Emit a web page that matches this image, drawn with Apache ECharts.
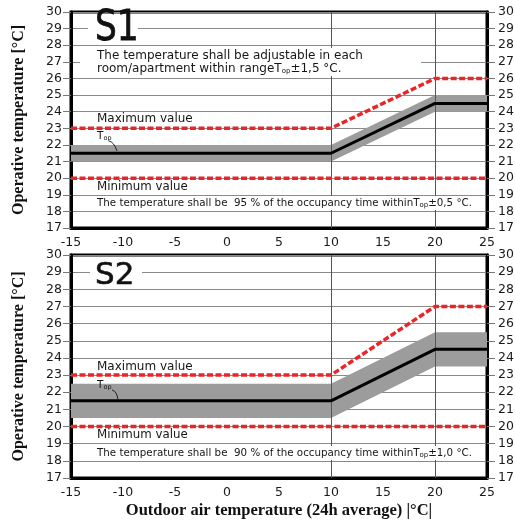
<!DOCTYPE html>
<html><head><meta charset="utf-8">
<script src="https://cdn.jsdelivr.net/npm/echarts@6/dist/echarts.min.js"></script>
<style>html,body{margin:0;padding:0;background:#fff}#c{width:515px;height:521px}</style>
</head><body><div id="c"></div>
<script>
// ---- data ----
const xBreaks = [-15, 10, 20, 25];
const vLines = [10, 20];
const s1Top   = [21.5, 21.5, 24.5, 24.5];
const s1Lower = [21, 21, 24, 24];
const s1Upper = [22, 22, 25, 25];
const s1Max   = [23, 23, 26, 26];
const s1Min   = [20, 20, 20, 20];
const s2Top   = [21.5, 21.5, 24.5, 24.5];
const s2Lower = [20.5, 20.5, 23.5, 23.5];
const s2Upper = [22.5, 22.5, 25.5, 25.5];
const s2Max   = [23, 23, 27, 27];
const s2Min   = [20, 20, 20, 20];
const xTitle = 'Outdoor air temperature (24h average) |°C|';
const yTitle = 'Operative temperature [°C]';

const sans = 'DejaVu Sans';
const RED = '#e8262a';

function pts(arr){ return xBreaks.map((x,i)=>[x, arr[i]]); }

function xAxisCfg(g, withName){
  const a = {gridIndex:g, type:'value', min:-15, max:25, interval:5,
    axisLine:{onZero:false, lineStyle:{color:'#000', width:3}},
    axisTick:{show:false}, splitLine:{show:false},
    axisLabel:{color:'#1a1a1a', fontFamily:sans, fontSize:12.5, margin:8}};
  if (withName){
    a.name = xTitle; a.nameLocation='middle'; a.nameGap=24;
    a.nameTextStyle = {fontFamily:'Liberation Serif', fontWeight:'bold', fontSize:16.5, color:'#111'};
  }
  return a;
}
function yAxisCfg(g, pos){
  const a = {gridIndex:g, type:'value', min:17, max:30, interval:1, position:pos,
    axisLine:{show:true, onZero:false, lineStyle:{color:'#000', width:3}},
    axisTick:{show:true, length:8, lineStyle:{color:'#777', width:1}},
    axisLabel:{color:'#1a1a1a', fontFamily:sans, fontSize:12.5, margin: pos==='left' ? 9 : 11},
    splitLine:{show: pos==='left', lineStyle:{color:'#8a8a8a', width:1}}};
  if (pos==='left'){
    a.name = yTitle; a.nameLocation='middle'; a.nameGap=44;
    a.nameTextStyle = {fontFamily:'Liberation Serif', fontWeight:'bold', fontSize:16, color:'#111'};
  }
  return a;
}
function band(g, yi, lower, upper){
  return {type:'custom', xAxisIndex:g, yAxisIndex:yi, data:[[0,20]], silent:true, z:2,
    renderItem:(params, api)=>{
      const p=[];
      for (let i=0;i<xBreaks.length;i++) p.push(api.coord([xBreaks[i], upper[i]]));
      for (let i=xBreaks.length-1;i>=0;i--) p.push(api.coord([xBreaks[i], lower[i]]));
      return {type:'polygon', shape:{points:p}, style:{fill:'#9c9c9c'}};
    }};
}
function line(g, yi, arr, color, width, dash, z){
  return {type:'line', xAxisIndex:g, yAxisIndex:yi, data:pts(arr), symbol:'none', silent:true, z:z,
    lineStyle:{color:color, width:width, type:dash||'solid'}};
}
function vgrid(g, yi){
  return {type:'line', xAxisIndex:g, yAxisIndex:yi, data:[[10,17]], symbol:'none', silent:true, z:1,
    lineStyle:{width:0},
    markLine:{silent:true, symbol:['none','none'], label:{show:false},
      lineStyle:{color:'#555', width:1, type:'solid'},
      data: vLines.map(v=>({xAxis:v}))}};
}
function txt(x, y, text, size, extra){
  return Object.assign({type:'text', x:x, y:y, z:100,
    style:Object.assign({text:text, font:size+'px "'+sans+'"', fill:'#161616', verticalAlign:'middle'}, extra||{})});
}
const subRich = (fs)=>({sub:{fontSize:fs, fontFamily:sans, fill:'#161616', verticalAlign:'bottom', padding:[5,0,0,0]}});

const chart = echarts.init(document.getElementById('c'));
chart.setOption({
  animation:false,
  grid:[
    {left:71, right:28, top:12, height:216, outerBoundsMode:'none', containLabel:false, show:true, borderColor:'#000', borderWidth:3, backgroundColor:'transparent'},
    {left:71, right:28, top:255, height:223, outerBoundsMode:'none', containLabel:false, show:true, borderColor:'#000', borderWidth:3, backgroundColor:'transparent'}
  ],
  xAxis:[xAxisCfg(0,false), xAxisCfg(1,true)],
  yAxis:[yAxisCfg(0,'left'), yAxisCfg(0,'right'), yAxisCfg(1,'left'), yAxisCfg(1,'right')],
  series:[
    vgrid(0,0),
    band(0,0,s1Lower,s1Upper),
    line(0,0,s1Top,'#000',3,'solid',5),
    line(0,0,s1Max,RED,3.5,[6,2.5],6),
    line(0,0,s1Min,RED,3.5,[6,2.5],6),
    vgrid(1,2),
    band(1,2,s2Lower,s2Upper),
    line(1,2,s2Top,'#000',3,'solid',5),
    line(1,2,s2Max,RED,3.5,[6,2.5],6),
    line(1,2,s2Min,RED,3.5,[6,2.5],6)
  ],
  graphic:[
    // top panel
    {type:'rect', z:90, shape:{x:88, y:15, width:50, height:30}, style:{fill:'#fff'}},
    {type:'rect', z:90, shape:{x:80, y:48, width:341, height:28}, style:{fill:'#fff'}},
    {type:'text', z:100, x:95, y:29, scaleX:0.82, style:{text:'S1', font:'42px "'+sans+'"', fill:'#111', verticalAlign:'middle', stroke:'#111', lineWidth:0.8}},
    txt(97, 56, 'The temperature shall be adjustable in each', 12),
    txt(97, 69, 'room/apartment within rangeT{sub|op}±1,5 °C.', 12, {rich:subRich(7)}),
    txt(97, 119, 'Maximum value', 12),
    txt(97, 136, 'T{sub|op}', 10.5, {rich:subRich(6.5)}),
    {type:'bezierCurve', z:100, shape:{x1:109, y1:141, x2:117, y2:151, cpx1:114, cpy1:142}, style:{stroke:'#222', lineWidth:1, fill:null}},
    txt(97, 187, 'Minimum value', 11.8),
    txt(97, 203, 'The temperature shall be  95 % of the occupancy time withinT{sub|op}±0,5 °C.', 10.3, {rich:subRich(7), backgroundColor:'#fff', padding:[1,2,1,0]}),
    // bottom panel
    {type:'rect', z:90, shape:{x:90, y:262, width:52, height:26}, style:{fill:'#fff'}},
    {type:'text', z:100, x:95, y:276, style:{text:'S2', font:'31px "'+sans+'"', fill:'#111', verticalAlign:'middle', stroke:'#111', lineWidth:0.6}},
    txt(97, 367, 'Maximum value', 12),
    txt(97, 385, 'T{sub|op}', 10.5, {rich:subRich(6.5)}),
    {type:'bezierCurve', z:100, shape:{x1:112, y1:390, x2:118, y2:400, cpx1:117, cpy1:391}, style:{stroke:'#222', lineWidth:1, fill:null}},
    txt(97, 435, 'Minimum value', 11.8),
    txt(97, 453, 'The temperature shall be  90 % of the occupancy time withinT{sub|op}±1,0 °C.', 10.3, {rich:subRich(7), backgroundColor:'#fff', padding:[1,2,1,0]})
  ]
});
</script></body></html>
